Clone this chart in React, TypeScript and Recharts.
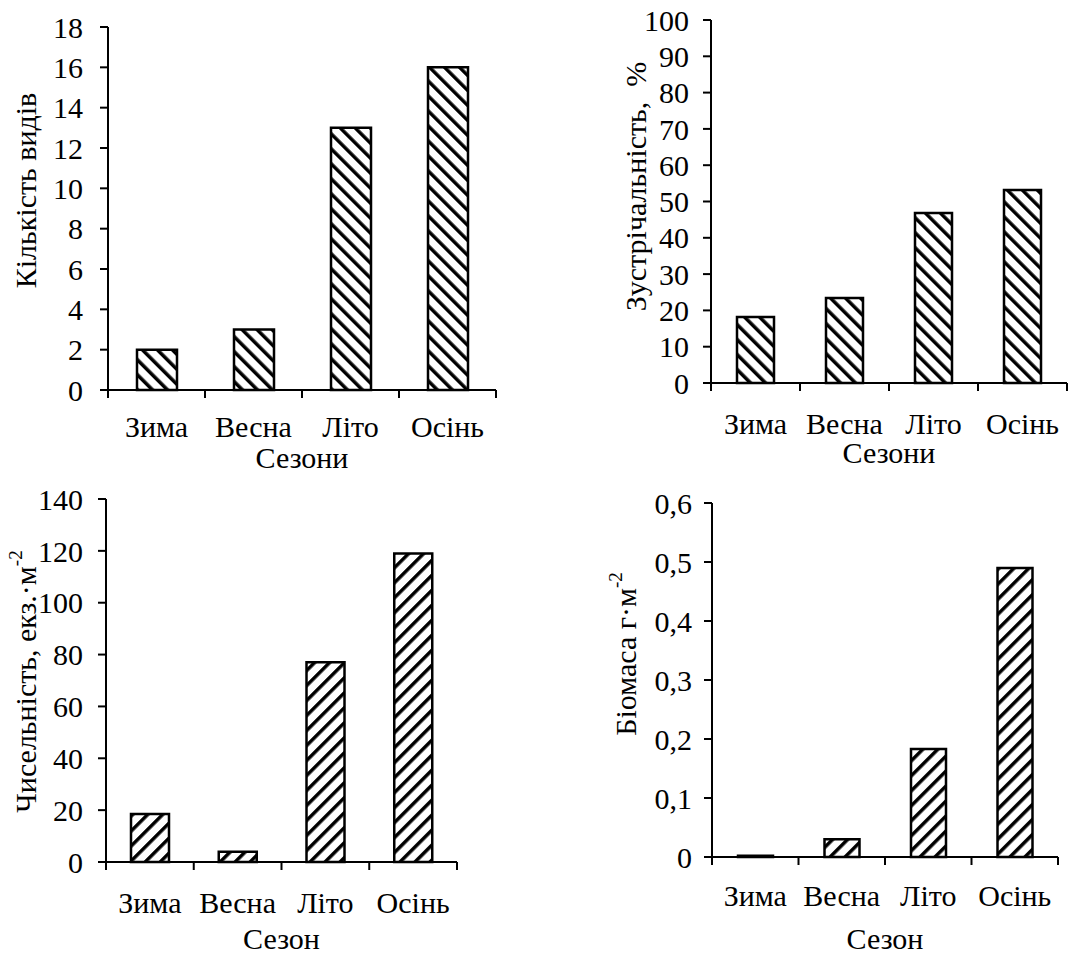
import { BarChart, Bar, XAxis, YAxis } from 'recharts'
import type { ReactNode } from 'react'

const seasons = ['Зима', 'Весна', 'Літо', 'Осінь']

// top row
const speciesCount = [2, 3, 13, 16]
const occurrence = [18.2, 23.4, 46.8, 53.2]
// bottom row
const abundance = [18.5, 4, 77, 119]
const biomass = [0.002, 0.03, 0.183, 0.49]

const speciesTicks = [0, 2, 4, 6, 8, 10, 12, 14, 16, 18]
const occurrenceTicks = [0, 10, 20, 30, 40, 50, 60, 70, 80, 90, 100]
const abundanceTicks = [0, 20, 40, 60, 80, 100, 120, 140]
const biomassTicks = [0, 0.1, 0.2, 0.3, 0.4, 0.5, 0.6]

const FONT = 'Liberation Serif'
const FS = 30

interface PanelProps {
  left: number;
  top: number;
  width: number;
  height: number;
  margin: { top: number; right: number; bottom: number; left: number };
  yWidth: number;
  xHeight: number;
  barSize: number;
  values: number[];
  ticks: number[];
  yTickMargin: number;
  xTickDy: number;
  xTitle: string;
  xTitleDy: number;
  yTitle: ReactNode;
  yTitleX: number;
  yTitleDy: number;
  hatch: 'back' | 'fwd';
  id: string;
  comma?: boolean;
}

/** Season label plus tick marks on the category boundaries */
function SeasonTick(props: any) {
  const { x, y, payload, index, tickDy, half, count } = props
  const h = payload && typeof payload.offset === 'number' && payload.offset > 0 ? payload.offset : half
  return (
    <g>
      <line x1={x - h} x2={x - h} y1={y} y2={y + 8} stroke="#000" strokeWidth={2} />
      {index === count - 1 && <line x1={x + h} x2={x + h} y1={y} y2={y + 8} stroke="#000" strokeWidth={2} />}
      <text x={x} y={y + tickDy} dy="0.355em" textAnchor="middle" fill="#000" fontFamily={FONT} fontSize={FS}>
        {payload.value}
      </text>
    </g>
  )
}

function Panel(p: PanelProps) {
  const data = seasons.map((season, i) => ({ season, v: p.values[i] }))
  const plotW = p.width - p.margin.left - p.margin.right - p.yWidth
  const half = plotW / seasons.length / 2
  const max = p.ticks[p.ticks.length - 1]
  const rot = p.hatch === 'back' ? -45 : 45

  return (
    <div style={{ position: 'absolute', left: p.left, top: p.top, fontFamily: FONT }}>
      <BarChart width={p.width} height={p.height} data={data} margin={p.margin}>
        <defs>
          <pattern id={p.id} patternUnits="userSpaceOnUse" width={10.6} height={10.6} patternTransform={`rotate(${rot})`}>
            <rect x={0} y={0} width={10.6} height={10.6} fill="#fff" />
            <rect x={0} y={0} width={3.5} height={10.6} fill="#000" />
          </pattern>
        </defs>
        <XAxis
          dataKey="season"
          type="category"
          height={p.xHeight}
          interval={0}
          tickSize={0}
          tickMargin={0}
          tickLine={false}
          axisLine={{ stroke: '#000', strokeWidth: 2 }}
          tick={(tp: any) => <SeasonTick {...tp} tickDy={p.xTickDy} half={half} count={seasons.length} />}
          label={{
            content: (lp: any) => {
              const vb = lp.viewBox || {}
              return (
                <text x={vb.x + vb.width / 2} y={vb.y + p.xTitleDy} dy="0.355em" textAnchor="middle" fill="#000" fontFamily={FONT} fontSize={FS}>
                  {p.xTitle}
                </text>
              )
            },
          }}
        />
        <YAxis
          type="number"
          domain={[0, max]}
          ticks={p.ticks}
          interval={0}
          width={p.yWidth}
          tickSize={8}
          tickMargin={p.yTickMargin}
          axisLine={{ stroke: '#000', strokeWidth: 2 }}
          tickLine={{ stroke: '#000', strokeWidth: 2 }}
          tick={{ fill: '#000', fontSize: FS, fontFamily: FONT }}
          tickFormatter={(v: number) => (p.comma ? String(v).replace('.', ',') : String(v))}
          label={{
            content: (lp: any) => {
              const vb = lp.viewBox || {}
              const cx = vb.x + p.yTitleX
              const cy = vb.y + vb.height / 2 + p.yTitleDy
              return (
                <text
                  x={cx}
                  y={cy}
                  transform={`rotate(-90, ${cx}, ${cy})`}
                  textAnchor="middle"
                  dominantBaseline="central"
                  fill="#000"
                  fontFamily={FONT}
                  fontSize={FS}
                  xmlSpace="preserve"
                >
                  {p.yTitle}
                </text>
              )
            },
          }}
        />
        <Bar dataKey="v" fill={`url(#${p.id})`} stroke="#000" strokeWidth={2.5} barSize={p.barSize} isAnimationActive={false} />
      </BarChart>
    </div>
  )
}

export default function App() {
  return (
    <div className="season-charts" style={{ position: 'fixed', left: 0, top: 0, width: 1091, height: 955, background: '#fff', fontFamily: FONT }}>
      <style>{`.season-charts text { font-family: 'Liberation Serif' !important; }`}</style>
      <Panel
        id="hatchA"
        left={0}
        top={0}
        width={545}
        height={480}
        margin={{ top: 27, right: 49, bottom: 10, left: 0 }}
        yWidth={108}
        xHeight={80}
        barSize={40}
        values={speciesCount}
        ticks={speciesTicks}
        yTickMargin={17}
        xTickDy={36}
        xTitle="Сезони"
        xTitleDy={67}
        yTitle="Кількість видів"
        yTitleX={25}
        yTitleDy={-18}
        hatch="back"
      />
      <Panel
        id="hatchB"
        left={545}
        top={0}
        width={546}
        height={480}
        margin={{ top: 20, right: 24, bottom: 17, left: 0 }}
        yWidth={166}
        xHeight={80}
        barSize={37}
        values={occurrence}
        ticks={occurrenceTicks}
        yTickMargin={14}
        xTickDy={40}
        xTitle="Сезони"
        xTitleDy={69}
        yTitle={'Зустрічальність,\u00a0\u00a0%'}
        yTitleX={90}
        yTitleDy={-15}
        hatch="back"
      />
      <Panel
        id="hatchC"
        left={0}
        top={480}
        width={545}
        height={475}
        margin={{ top: 19, right: 88, bottom: 13, left: 0 }}
        yWidth={106}
        xHeight={80}
        barSize={38}
        values={abundance}
        ticks={abundanceTicks}
        yTickMargin={15}
        xTickDy={40}
        xTitle="Сезон"
        xTitleDy={76}
        yTitle={
          <>
            Чисельність, екз.·м<tspan dy={-10} fontSize={19}>-2</tspan>
          </>
        }
        yTitleX={25}
        yTitleDy={1}
        hatch="fwd"
      />
      <Panel
        id="hatchD"
        left={545}
        top={480}
        width={546}
        height={475}
        margin={{ top: 23, right: 33, bottom: 8, left: 0 }}
        yWidth={167}
        xHeight={90}
        barSize={35}
        values={biomass}
        ticks={biomassTicks}
        yTickMargin={12}
        xTickDy={38}
        xTitle="Сезон"
        xTitleDy={81}
        yTitle={
          <>
            Біомаса г·м<tspan dy={-10} fontSize={19}>-2</tspan>
          </>
        }
        yTitleX={80}
        yTitleDy={-26}
        hatch="fwd"
        comma
      />
    </div>
  )
}
